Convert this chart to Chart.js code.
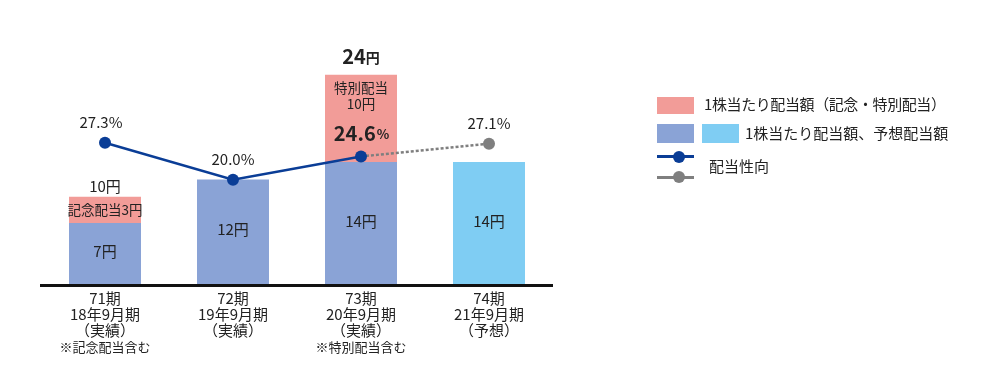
<!DOCTYPE html>
<html><head><meta charset="utf-8">
<script src="https://cdn.jsdelivr.net/npm/chart.js@4/dist/chart.umd.min.js"></script>
<style>
html,body{margin:0;padding:0;background:#fff;}
#wrap{position:relative;width:982px;height:384px;font-family:"Noto Sans CJK JP","Noto Sans",sans-serif;color:#222;}
canvas{position:absolute;left:0;top:0;}
.sw{position:absolute;}
.lt{position:absolute;font-size:15px;line-height:18px;white-space:nowrap;color:#222;}
</style>
</head><body>
<div id="wrap">
<canvas id="c" width="982" height="384"></canvas>
<div class="sw" style="left:657px;top:97px;width:37px;height:17px;background:#f29c98"></div>
<div class="lt" style="left:704px;top:95px;letter-spacing:-0.4px;">1株当たり配当額（記念・特別配当）</div>
<div class="sw" style="left:657px;top:124px;width:37px;height:19px;background:#8aa3d6"></div>
<div class="sw" style="left:702px;top:124px;width:37px;height:19px;background:#7fcdf3"></div>
<div class="lt" style="left:745px;top:124px;">1株当たり配当額、予想配当額</div>
<div class="sw" style="left:657px;top:155px;width:37px;height:3px;background:#0a3d96"></div>
<div class="sw" style="left:673px;top:151px;width:12px;height:12px;border-radius:50%;background:#0a3d96"></div>
<div class="sw" style="left:657px;top:176px;width:37px;height:3px;background:#7f7f7f"></div>
<div class="sw" style="left:673px;top:171px;width:12px;height:12px;border-radius:50%;background:#7f7f7f"></div>
<div class="lt" style="left:709px;top:157px;">配当性向</div>
</div>
<script>
const categories = ['71期','72期','73期','74期'];
const periodLabels = ['18年9月期','19年9月期','20年9月期','21年9月期'];
const statusLabels = ['（実績）','（実績）','（実績）','（予想）'];
const noteLabels = ['※記念配当含む','','※特別配当含む',''];
const ordinaryDividend = [7,12,14,14];
const specialDividend = [3,0,10,0];
const totalDividend = [10,12,24,14];
const payoutActual = [27.3,20.0,24.6,null];
const payoutForecast = [null,null,24.6,27.1];
const specialNames = ['記念配当','','特別配当',''];

const BLUE='#8aa3d6', LBLUE='#7fcdf3', RED='#f29c98', NAVY='#0a3d96', GRAY='#7f7f7f';
const FONT='"Noto Sans CJK JP","Noto Sans",sans-serif';
const TXT='#222';

const labelPlugin = {
  id:'labels',
  afterDatasetsDraw(chart){
    const ctx=chart.ctx, x=chart.scales.x, y=chart.scales.y, y2=chart.scales.y2, ca=chart.chartArea;
    ctx.save();
    ctx.fillStyle='#111';
    ctx.fillRect(ca.left-1, y.getPixelForValue(0), ca.right-ca.left+1, 3);
    ctx.textAlign='center'; ctx.textBaseline='middle'; ctx.fillStyle=TXT;
    categories.forEach((c,i)=>{
      const cx=x.getPixelForValue(i);
      const y0=y.getPixelForValue(0);
      const yb=y.getPixelForValue(ordinaryDividend[i]);
      const yt=y.getPixelForValue(ordinaryDividend[i]+specialDividend[i]);
      ctx.font='15px '+FONT;
      ctx.fillText(ordinaryDividend[i]+'円', cx, (y0+yb)/2-2);
      ctx.fillText(c, cx, 298);
      ctx.fillText(periodLabels[i], cx, 314);
      ctx.fillText(statusLabels[i], cx, 330);
      if(noteLabels[i]){ ctx.font='13px '+FONT; ctx.fillText(noteLabels[i], cx, 347); }
      if(specialDividend[i]>0){
        if(i===0){
          ctx.font='13.5px '+FONT;
          ctx.fillText(specialNames[i]+specialDividend[i]+'円', cx, (yb+yt)/2);
          ctx.font='15px '+FONT;
          ctx.fillText(totalDividend[i]+'円', cx, yt-11);
        } else {
          ctx.font='13.5px '+FONT;
          ctx.fillText(specialNames[i], cx, yt+13);
          ctx.fillText(specialDividend[i]+'円', cx, yt+29);
          const a=String(totalDividend[i]); ctx.font='bold 20px '+FONT; const wa=ctx.measureText(a).width;
          ctx.font='bold 14px '+FONT; const wb=ctx.measureText('円').width;
          let sx=cx-(wa+wb)/2;
          ctx.textAlign='left';
          ctx.font='bold 20px '+FONT; ctx.fillText(a, sx, yt-18);
          ctx.font='bold 14px '+FONT; ctx.fillText('円', sx+wa, yt-17);
          ctx.textAlign='center';
        }
      }
      const pv = payoutActual[i]!=null ? payoutActual[i] : payoutForecast[i];
      const py = y2.getPixelForValue(pv);
      if(i===2){
        const a=pv.toFixed(1);
        ctx.font='bold 20px '+FONT; const wa=ctx.measureText(a).width;
        ctx.font='bold 13px '+FONT; const wb=ctx.measureText('%').width;
        const sx=cx-(wa+wb)/2;
        ctx.textAlign='left';
        ctx.font='bold 20px '+FONT; ctx.fillText(a, sx, py-23);
        ctx.font='bold 13px '+FONT; ctx.fillText('%', sx+wa+1, py-22);
        ctx.textAlign='center';
      } else {
        ctx.font='15px '+FONT;
        ctx.fillText(pv.toFixed(1)+'%', x.getPixelForValue(i)-(i===0?4:0), py-20);
      }
    });
    ctx.restore();
  }
};

new Chart(document.getElementById('c'), {
  data:{
    labels:categories,
    datasets:[
      {type:'line', data:payoutActual, yAxisID:'y2', borderColor:NAVY, backgroundColor:NAVY, borderWidth:2.5,
       pointRadius:[6,6,6,0], pointHoverRadius:0, pointBorderWidth:0, order:0, spanGaps:false},
      {type:'line', data:payoutForecast, yAxisID:'y2', borderColor:GRAY, backgroundColor:GRAY, borderWidth:2.5,
       borderDash:[3,2], pointRadius:[0,0,0,6], pointBorderWidth:0, order:1},
      {type:'bar', data:ordinaryDividend, yAxisID:'y', backgroundColor:[BLUE,BLUE,BLUE,LBLUE],
       barPercentage:0.5625, categoryPercentage:1, order:2},
      {type:'bar', data:specialDividend, yAxisID:'y', backgroundColor:RED,
       barPercentage:0.5625, categoryPercentage:1, order:2}
    ]
  },
  options:{
    responsive:false, animation:false, devicePixelRatio:1,
    layout:{padding:{left:41,right:429,top:40,bottom:100}},
    plugins:{legend:{display:false}, tooltip:{enabled:false}},
    scales:{
      x:{display:false, stacked:true, offset:true},
      y:{display:false, stacked:true, min:0, max:28},
      y2:{display:false, min:-0.5, max:47.5}
    }
  },
  plugins:[labelPlugin]
});
</script>
</body></html>
